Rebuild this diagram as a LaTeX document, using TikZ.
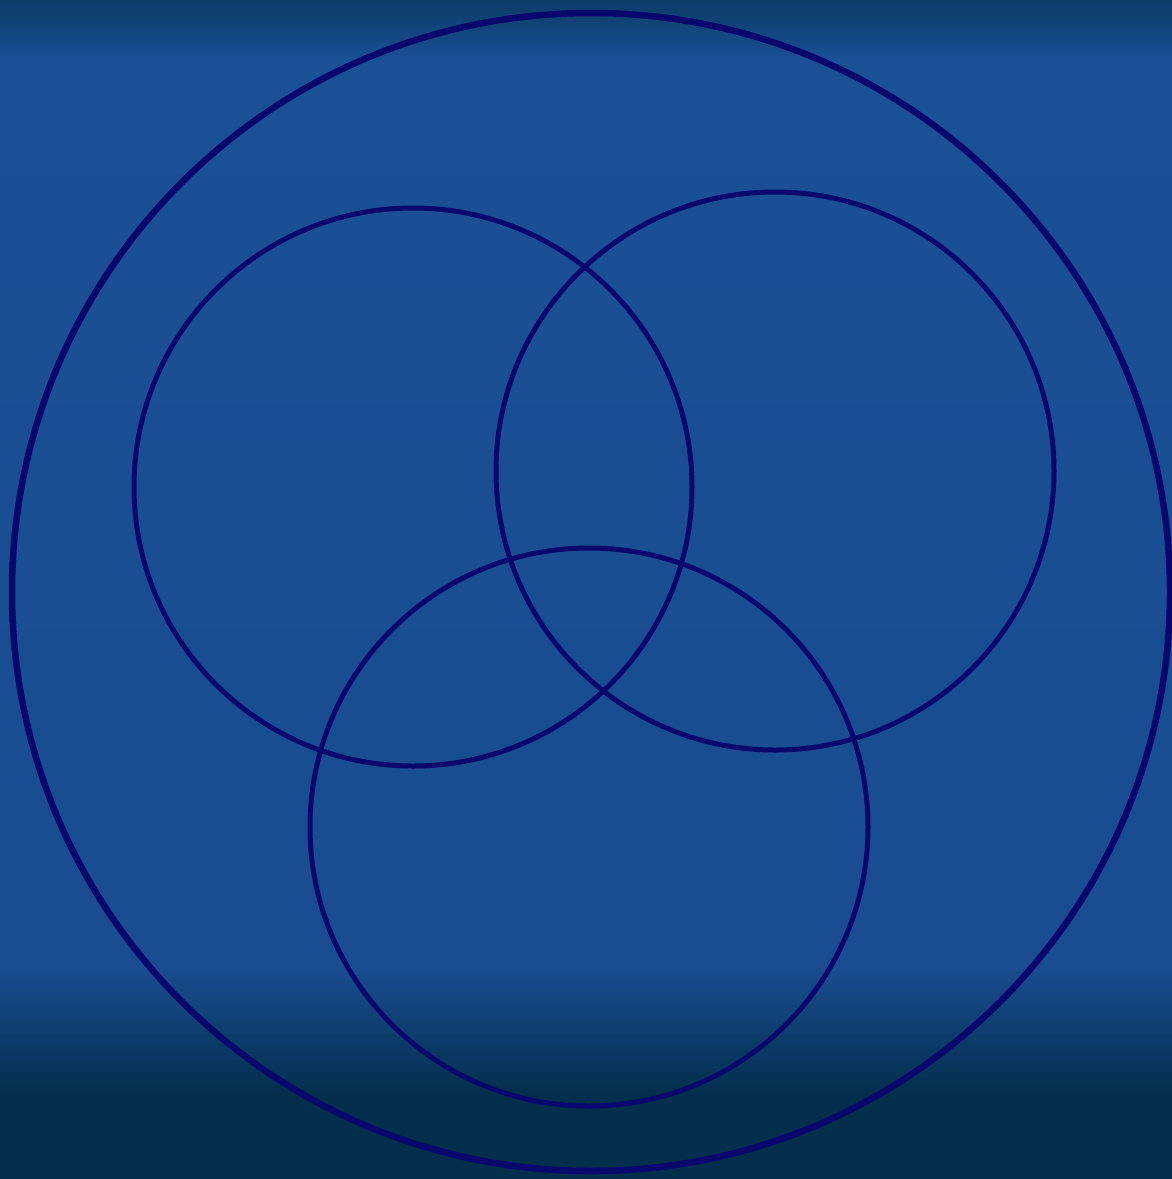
\documentclass[tikz,border=0pt]{standalone}
\begin{document}
\begin{tikzpicture}[x=1pt,y=-1pt,
  outerring/.style={draw=ringcol,line width=6.5pt},
  innerring/.style={draw=ringcol,line width=5pt}]
\definecolor{ringcol}{HTML}{07076C}
\definecolor{bgtop}{HTML}{0B3B66}
\definecolor{bgmid}{HTML}{1A5096}
\definecolor{bgmid2}{HTML}{194C90}
\definecolor{bgbot}{HTML}{032E4C}
\useasboundingbox (0,0) rectangle (1172,1179);
\shade[top color=bgtop,bottom color=bgmid] (0,0) rectangle (1172,60);
\shade[top color=bgmid,bottom color=bgmid2] (0,59) rectangle (1172,970);
\shade[top color=bgmid2,bottom color=bgbot] (0,969) rectangle (1172,1095);
\fill[bgbot] (0,1094) rectangle (1172,1179);
\coordinate (cbig) at (591,592);
\coordinate (ca) at (413,487);
\coordinate (cb) at (775,471);
\coordinate (cc) at (589,827);
\draw[outerring] (cbig) circle[radius=579];
\draw[innerring] (ca) circle[radius=279];
\draw[innerring] (cb) circle[radius=279];
\draw[innerring] (cc) circle[radius=279];
\end{tikzpicture}
\end{document}
